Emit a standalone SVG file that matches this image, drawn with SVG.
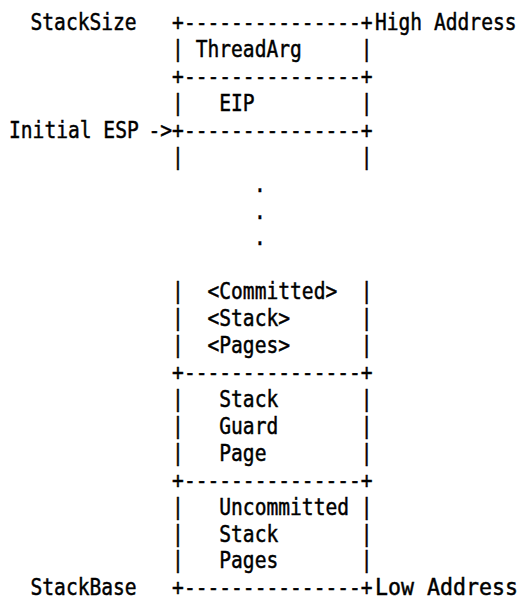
<svg xmlns="http://www.w3.org/2000/svg" width="526" height="601" viewBox="0 0 526 601" xml:space="preserve">
<style>
  text { font-family: "DejaVu Sans Mono", "Liberation Mono", monospace; font-size: 19.6px; fill: #000; stroke: #000; stroke-width: 0.4; white-space: pre; }
  .dot { text-anchor: middle; }
</style>
<rect x="0" y="0" width="526" height="601" fill="#fff"/>
<g transform="scale(1,1.19)">
<g id="labels">
  <text x="30.5" y="25.63">StackSize</text>
  <text x="375" y="25.63">High Address</text>
  <text x="9" y="116.05">Initial ESP</text>
  <text x="30.5" y="500.34">StackBase</text>
  <text x="375" y="500.34" textLength="143" lengthAdjust="spacingAndGlyphs">Low Address</text>
</g>
<g id="connectors">
  <text x="148.5" y="116.05">-&gt;</text>
</g>
<g id="node-threadarg">
  <text x="172.1" y="25.63">+---------------+</text>
  <text x="172.1" y="48.24">| ThreadArg     |</text>
</g>
<g id="node-eip">
  <text x="172.1" y="70.84">+---------------+</text>
  <text x="172.1" y="93.45">|   EIP         |</text>
  <text x="172.1" y="116.05">+---------------+</text>
</g>
<g id="node-committed">
  <text x="172.1" y="138.66">|               |</text>
  <text class="dot" x="260" y="161.26">.</text>
  <text class="dot" x="260" y="183.78">.</text>
  <text class="dot" x="260" y="206.30">.</text>
  <text x="172.1" y="251.68">|  &lt;Committed&gt;  |</text>
  <text x="172.1" y="274.29">|  &lt;Stack&gt;      |</text>
  <text x="172.1" y="296.89">|  &lt;Pages&gt;      |</text>
</g>
<g id="node-guard">
  <text x="172.1" y="319.50">+---------------+</text>
  <text x="172.1" y="342.10">|   Stack       |</text>
  <text x="172.1" y="364.71">|   Guard       |</text>
  <text x="172.1" y="387.31">|   Page        |</text>
</g>
<g id="node-uncommitted">
  <text x="172.1" y="409.92">+---------------+</text>
  <text x="172.1" y="432.52">|   Uncommitted |</text>
  <text x="172.1" y="455.13">|   Stack       |</text>
  <text x="172.1" y="477.73">|   Pages       |</text>
  <text x="172.1" y="500.34">+---------------+</text>
</g>
</g>
</svg>
